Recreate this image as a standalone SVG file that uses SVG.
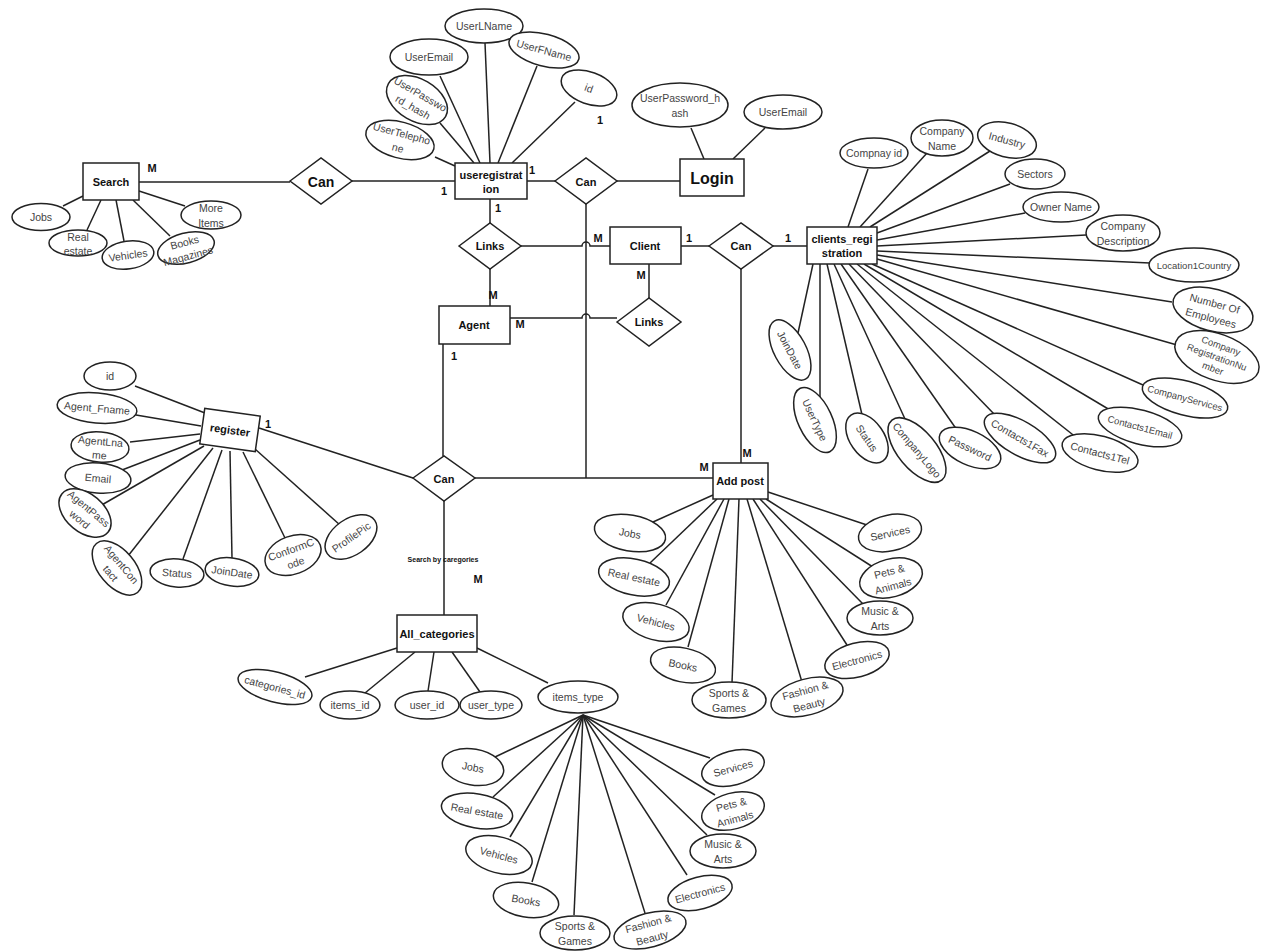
<svg xmlns="http://www.w3.org/2000/svg" width="1272" height="952" viewBox="0 0 1272 952">
<style>
.bg{fill:#fff}
.c path,.c line{stroke:#222;stroke-width:1.5;fill:none}
.at ellipse{fill:#fff;stroke:#222;stroke-width:1.5}
.at text{font-family:"Liberation Sans",Arial,sans-serif;font-size:10.5px;fill:#444;text-anchor:middle;dominant-baseline:central}
.at text.s{font-size:9.5px}
.en rect{fill:#fff;stroke:#222;stroke-width:1.5}
.en text,.rl text{font-family:"Liberation Sans",Arial,sans-serif;font-size:11px;font-weight:bold;fill:#111;text-anchor:middle;dominant-baseline:central}
.rl polygon{fill:#fff;stroke:#222;stroke-width:1.5}
.cd{font-family:"Liberation Sans",Arial,sans-serif;font-size:11px;font-weight:bold;fill:#111;text-anchor:middle;dominant-baseline:central}
</style>
<rect class="bg" x="0" y="0" width="1272" height="952"/>
<g id="connectors" class="c">
<path d="M139,182 H290"/>
<path d="M352,181 H455"/>
<path d="M527,181 H555"/>
<path d="M617,181 H680"/>
<path d="M586,204 V478"/>
<path d="M490,199 V223"/>
<path d="M521,246 H582 A4,4 0 0 1 590,246 H610"/>
<path d="M490,269 V306"/>
<path d="M510,318 H582 A4,4 0 0 1 590,318 H617"/>
<path d="M649,264 V298"/>
<path d="M681,246 H709"/>
<path d="M773,246 H807"/>
<path d="M741,269 V463"/>
<path d="M443,344 V456"/>
<path d="M475,478 H713"/>
<path d="M413,478 L259,428"/>
<path d="M444,501 V615"/>
<!-- search attrs -->
<path d="M63,206 L83,196"/>
<path d="M87,230 L101,200"/>
<path d="M124,241 L116,200"/>
<path d="M170,236 L133,200"/>
<path d="M185,206 L139,191"/>
<!-- useregistration attrs -->
<path d="M485,43 L490,163"/>
<path d="M440,76 L480,163"/>
<path d="M537,66 L498,163"/>
<path d="M575,102 L512,163"/>
<path d="M440,123 L474,163"/>
<path d="M435,157 L455,166"/>
<!-- login attrs -->
<path d="M691,128 L704,159"/>
<path d="M765,128 L733,159"/>
<!-- clients_registration attrs -->
<path d="M868,169 L848,227"/>
<path d="M927,153 L860,227"/>
<path d="M990,151 L870,227"/>
<path d="M1010,184 L877,233"/>
<path d="M1025,213 L877,240"/>
<path d="M1086,235 L877,246"/>
<path d="M1150,263 L877,251"/>
<path d="M1172,302 L877,255"/>
<path d="M1177,345 L877,259"/>
<path d="M1143,385 L872,264"/>
<path d="M1110,410 L864,264"/>
<path d="M1077,438 L857,264"/>
<path d="M995,415 L849,264"/>
<path d="M957,430 L841,264"/>
<path d="M905,419 L834,264"/>
<path d="M863,419 L827,264"/>
<path d="M820,397 L820,264"/>
<path d="M798,333 L813,264"/>
<!-- register attrs -->
<path d="M135,386 L205,413"/>
<path d="M136,415 L201,426"/>
<path d="M130,442 L200,434"/>
<path d="M122,470 L200,440"/>
<path d="M100,506 L204,446"/>
<path d="M128,556 L213,448"/>
<path d="M183,559 L222,450"/>
<path d="M232,558 L230,451"/>
<path d="M285,538 L243,452"/>
<path d="M340,525 L255,449"/>
<!-- add post attrs -->
<path d="M653,522 L713,495"/>
<path d="M650,563 L717,499"/>
<path d="M666,605 L724,499"/>
<path d="M688,647 L729,499"/>
<path d="M732,683 L739,499"/>
<path d="M802,682 L747,499"/>
<path d="M847,645 L753,499"/>
<path d="M863,604 L760,499"/>
<path d="M873,567 L766,499"/>
<path d="M867,525 L768,492"/>
<!-- all_categories attrs -->
<path d="M305,677 L397,648"/>
<path d="M365,693 L415,652"/>
<path d="M428,691 L434,652"/>
<path d="M480,692 L452,652"/>
<path d="M548,683 L477,648"/>
<!-- items_type attrs -->
<path d="M583,715 L495,757"/>
<path d="M583,715 L493,797"/>
<path d="M583,715 L510,837"/>
<path d="M583,715 L532,882"/>
<path d="M583,715 L574,915"/>
<path d="M583,715 L645,913"/>
<path d="M583,715 L687,875"/>
<path d="M583,715 L707,835"/>
<path d="M583,715 L715,795"/>
<path d="M583,715 L710,758"/>
</g>
<g id="entities">
<g id="search" class="en"><rect x="83" y="163" width="56" height="37"/><text x="111" y="182">Search</text></g>
<g id="useregistration" class="en"><rect x="455" y="163" width="72" height="36"/><text x="491" y="175">useregistrat</text><text x="491" y="189">ion</text></g>
<g id="login" class="en"><rect x="680" y="159" width="64" height="37"/><text x="712" y="178" style="font-size:16px">Login</text></g>
<g id="client" class="en"><rect x="610" y="227" width="71" height="37"/><text x="645" y="246">Client</text></g>
<g id="agent" class="en"><rect x="439" y="306" width="71" height="38"/><text x="474" y="325">Agent</text></g>
<g id="clients_registration" class="en"><rect x="807" y="227" width="70" height="37"/><text x="842" y="239">clients_regi</text><text x="842" y="253">stration</text></g>
<g id="register" class="en" transform="translate(230,430) rotate(8)"><rect x="-28" y="-18" width="56" height="36"/><text x="0" y="0">register</text></g>
<g id="addpost" class="en"><rect x="713" y="463" width="55" height="36"/><text x="740" y="481">Add post</text></g>
<g id="all_categories" class="en"><rect x="397" y="615" width="80" height="37"/><text x="437" y="634">All_categories</text></g>
</g>
<g id="relationships">
<g id="can1" class="rl"><polygon points="290,181 321,158 352,181 321,204"/><text x="321" y="182" style="font-size:14px">Can</text></g>
<g id="can2" class="rl"><polygon points="555,181 586,158 617,181 586,204"/><text x="586" y="182">Can</text></g>
<g id="links1" class="rl"><polygon points="459,246 490,223 521,246 490,269"/><text x="490" y="246">Links</text></g>
<g id="can3" class="rl"><polygon points="709,246 741,223 773,246 741,269"/><text x="741" y="246">Can</text></g>
<g id="links2" class="rl"><polygon points="617,322 649,298 681,322 649,346"/><text x="649" y="322">Links</text></g>
<g id="can4" class="rl"><polygon points="413,478 444,456 475,478 444,501"/><text x="444" y="479">Can</text></g>
</g>
<g id="attributes">
<g id="s-jobs" class="at" transform="translate(41,217)"><ellipse rx="29" ry="13.5"/><text>Jobs</text></g>
<g id="s-real" class="at" transform="translate(78,243)"><ellipse rx="29" ry="13"/><text y="-6">Real</text><text y="8">estate</text></g>
<g id="s-veh" class="at" transform="translate(128,255) rotate(-8)"><ellipse rx="26" ry="14"/><text>Vehicles</text></g>
<g id="s-books" class="at" transform="translate(186,248) rotate(-15)"><ellipse rx="29" ry="15"/><text y="-6">Books</text><text y="8">Magazines</text></g>
<g id="s-more" class="at" transform="translate(211,215)"><ellipse rx="30" ry="14"/><text y="-7">More</text><text y="8">Items</text></g>

<g id="u-lname" class="at" transform="translate(484,26)"><ellipse rx="39" ry="17"/><text>UserLName</text></g>
<g id="u-email" class="at" transform="translate(429,57)"><ellipse rx="39" ry="18"/><text>UserEmail</text></g>
<g id="u-fname" class="at" transform="translate(544,50) rotate(15)"><ellipse rx="36" ry="16"/><text>UserFName</text></g>
<g id="u-id" class="at" transform="translate(589,88) rotate(20)"><ellipse rx="29" ry="16"/><text>id</text></g>
<g id="u-pass" class="at" transform="translate(417,100) rotate(30)"><ellipse rx="33" ry="21"/><text y="-7">UserPasswo</text><text y="8">rd_hash</text></g>
<g id="u-tel" class="at" transform="translate(400,140) rotate(15)"><ellipse rx="35" ry="18"/><text y="-7">UserTelepho</text><text y="8">ne</text></g>

<g id="l-pass" class="at" transform="translate(680,105)"><ellipse rx="48" ry="22"/><text y="-7">UserPassword_h</text><text y="8">ash</text></g>
<g id="l-email" class="at" transform="translate(783,112)"><ellipse rx="39" ry="17"/><text>UserEmail</text></g>

<g id="c-id" class="at" transform="translate(874,153)"><ellipse rx="34" ry="15"/><text>Compnay id</text></g>
<g id="c-name" class="at" transform="translate(942,138)"><ellipse rx="31" ry="18"/><text y="-7">Company</text><text y="8">Name</text></g>
<g id="c-ind" class="at" transform="translate(1007,140) rotate(15)"><ellipse rx="30" ry="17"/><text>Industry</text></g>
<g id="c-sec" class="at" transform="translate(1035,174)"><ellipse rx="30" ry="15"/><text>Sectors</text></g>
<g id="c-owner" class="at" transform="translate(1061,207)"><ellipse rx="38" ry="15"/><text>Owner Name</text></g>
<g id="c-desc" class="at" transform="translate(1123,233)"><ellipse rx="37" ry="18"/><text y="-7">Company</text><text y="8">Description</text></g>
<g id="c-loc" class="at" transform="translate(1194,265)"><ellipse rx="45" ry="17"/><text class="s">Location1Country</text></g>
<g id="c-emp" class="at" transform="translate(1213,310) rotate(15)"><ellipse rx="41" ry="21"/><text y="-7">Number Of</text><text y="8">Employees</text></g>
<g id="c-reg" class="at" transform="translate(1217,357) rotate(20)"><ellipse rx="44" ry="23"/><text class="s" y="-12">Company</text><text class="s" y="0">RegistrationNu</text><text class="s" y="12">mber</text></g>
<g id="c-serv" class="at" transform="translate(1185,398) rotate(15)"><ellipse rx="44" ry="17"/><text class="s">CompanyServices</text></g>
<g id="c-cemail" class="at" transform="translate(1140,427) rotate(15)"><ellipse rx="43" ry="17"/><text class="s">Contacts1Email</text></g>
<g id="c-ctel" class="at" transform="translate(1100,453) rotate(15)"><ellipse rx="39" ry="17"/><text>Contacts1Tel</text></g>
<g id="c-cfax" class="at" transform="translate(1020,438) rotate(30)"><ellipse rx="40" ry="17"/><text>Contacts1Fax</text></g>
<g id="c-pass" class="at" transform="translate(970,448) rotate(25)"><ellipse rx="33" ry="17"/><text>Password</text></g>
<g id="c-logo" class="at" transform="translate(917,450) rotate(50)"><ellipse rx="39" ry="19"/><text>CompanyLogo</text></g>
<g id="c-status" class="at" transform="translate(867,438) rotate(55)"><ellipse rx="28" ry="17"/><text>Status</text></g>
<g id="c-utype" class="at" transform="translate(815,420) rotate(65)"><ellipse rx="35" ry="17"/><text>UserType</text></g>
<g id="c-join" class="at" transform="translate(790,350) rotate(62)"><ellipse rx="33" ry="16"/><text>JoinDate</text></g>

<g id="r-id" class="at" transform="translate(110,376)"><ellipse rx="26" ry="14"/><text>id</text></g>
<g id="r-fname" class="at" transform="translate(97,408) rotate(5)"><ellipse rx="40" ry="15"/><text>Agent_Fname</text></g>
<g id="r-lname" class="at" transform="translate(100,447) rotate(5)"><ellipse rx="29" ry="15"/><text y="-6">AgentLna</text><text y="8">me</text></g>
<g id="r-email" class="at" transform="translate(98,478) rotate(5)"><ellipse rx="33" ry="15"/><text>Email</text></g>
<g id="r-pass" class="at" transform="translate(85,513) rotate(40)"><ellipse rx="30" ry="19"/><text y="-6">AgentPass</text><text y="8">word</text></g>
<g id="r-contact" class="at" transform="translate(117,568) rotate(50)"><ellipse rx="32" ry="18"/><text y="-6">AgentCon</text><text y="8">tact</text></g>
<g id="r-status" class="at" transform="translate(177,573) rotate(5)"><ellipse rx="27" ry="14"/><text>Status</text></g>
<g id="r-join" class="at" transform="translate(232,572) rotate(8)"><ellipse rx="27" ry="14"/><text>JoinDate</text></g>
<g id="r-code" class="at" transform="translate(293,555) rotate(-20)"><ellipse rx="29" ry="19"/><text y="-6">ConformC</text><text y="8">ode</text></g>
<g id="r-pic" class="at" transform="translate(351,537) rotate(-35)"><ellipse rx="29" ry="18"/><text>ProfilePic</text></g>

<g id="p-jobs" class="at" transform="translate(630,533) rotate(10)"><ellipse rx="36" ry="18"/><text>Jobs</text></g>
<g id="p-real" class="at" transform="translate(634,577) rotate(12)"><ellipse rx="36" ry="18"/><text>Real estate</text></g>
<g id="p-veh" class="at" transform="translate(656,622) rotate(15)"><ellipse rx="34" ry="18"/><text>Vehicles</text></g>
<g id="p-books" class="at" transform="translate(683,665) rotate(12)"><ellipse rx="33" ry="17"/><text>Books</text></g>
<g id="p-sports" class="at" transform="translate(729,700)"><ellipse rx="37" ry="18"/><text y="-7">Sports &amp;</text><text y="8">Games</text></g>
<g id="p-fashion" class="at" transform="translate(807,697) rotate(-15)"><ellipse rx="37" ry="18"/><text y="-7">Fashion &amp;</text><text y="8">Beauty</text></g>
<g id="p-elec" class="at" transform="translate(857,660) rotate(-15)"><ellipse rx="33" ry="17"/><text>Electronics</text></g>
<g id="p-music" class="at" transform="translate(880,618)"><ellipse rx="33" ry="17"/><text y="-7">Music &amp;</text><text y="8">Arts</text></g>
<g id="p-pets" class="at" transform="translate(891,578) rotate(-15)"><ellipse rx="32" ry="19"/><text y="-7">Pets &amp;</text><text y="8">Animals</text></g>
<g id="p-serv" class="at" transform="translate(890,533) rotate(-12)"><ellipse rx="32" ry="18"/><text>Services</text></g>

<g id="a-catid" class="at" transform="translate(275,687) rotate(15)"><ellipse rx="38" ry="15"/><text>categories_id</text></g>
<g id="a-itemsid" class="at" transform="translate(350,705)"><ellipse rx="30" ry="14"/><text>items_id</text></g>
<g id="a-userid" class="at" transform="translate(427,705)"><ellipse rx="32" ry="14"/><text>user_id</text></g>
<g id="a-usertype" class="at" transform="translate(491,705)"><ellipse rx="31" ry="14"/><text>user_type</text></g>
<g id="a-itemstype" class="at" transform="translate(578,697)"><ellipse rx="40" ry="16"/><text>items_type</text></g>

<g id="i-jobs" class="at" transform="translate(473,767) rotate(10)"><ellipse rx="31" ry="18"/><text>Jobs</text></g>
<g id="i-real" class="at" transform="translate(477,811) rotate(10)"><ellipse rx="36" ry="17"/><text>Real estate</text></g>
<g id="i-veh" class="at" transform="translate(499,855) rotate(15)"><ellipse rx="34" ry="18"/><text>Vehicles</text></g>
<g id="i-books" class="at" transform="translate(526,900) rotate(10)"><ellipse rx="33" ry="17"/><text>Books</text></g>
<g id="i-sports" class="at" transform="translate(575,933)"><ellipse rx="35" ry="17"/><text y="-7">Sports &amp;</text><text y="8">Games</text></g>
<g id="i-fashion" class="at" transform="translate(650,930) rotate(-15)"><ellipse rx="37" ry="17"/><text y="-7">Fashion &amp;</text><text y="8">Beauty</text></g>
<g id="i-elec" class="at" transform="translate(700,893) rotate(-15)"><ellipse rx="33" ry="16"/><text>Electronics</text></g>
<g id="i-music" class="at" transform="translate(723,851)"><ellipse rx="33" ry="17"/><text y="-7">Music &amp;</text><text y="8">Arts</text></g>
<g id="i-pets" class="at" transform="translate(733,811) rotate(-15)"><ellipse rx="32" ry="18"/><text y="-7">Pets &amp;</text><text y="8">Animals</text></g>
<g id="i-serv" class="at" transform="translate(733,768) rotate(-15)"><ellipse rx="32" ry="17"/><text>Services</text></g>
</g>
<g id="cardinalities">
<text class="cd" x="152" y="168">M</text>
<text class="cd" x="444" y="191">1</text>
<text class="cd" x="532" y="170">1</text>
<text class="cd" x="498" y="208">1</text>
<text class="cd" x="600" y="120">1</text>
<text class="cd" x="598" y="238">M</text>
<text class="cd" x="689" y="238">1</text>
<text class="cd" x="788" y="238">1</text>
<text class="cd" x="641" y="275">M</text>
<text class="cd" x="493" y="295">M</text>
<text class="cd" x="520" y="324">M</text>
<text class="cd" x="454" y="356">1</text>
<text class="cd" x="268" y="424">1</text>
<text class="cd" x="704" y="467">M</text>
<text class="cd" x="747" y="453">M</text>
<text class="cd" x="478" y="579">M</text>
<text class="cd" x="443" y="559" style="font-size:7px">Search by caregories</text>
</g>
</svg>
